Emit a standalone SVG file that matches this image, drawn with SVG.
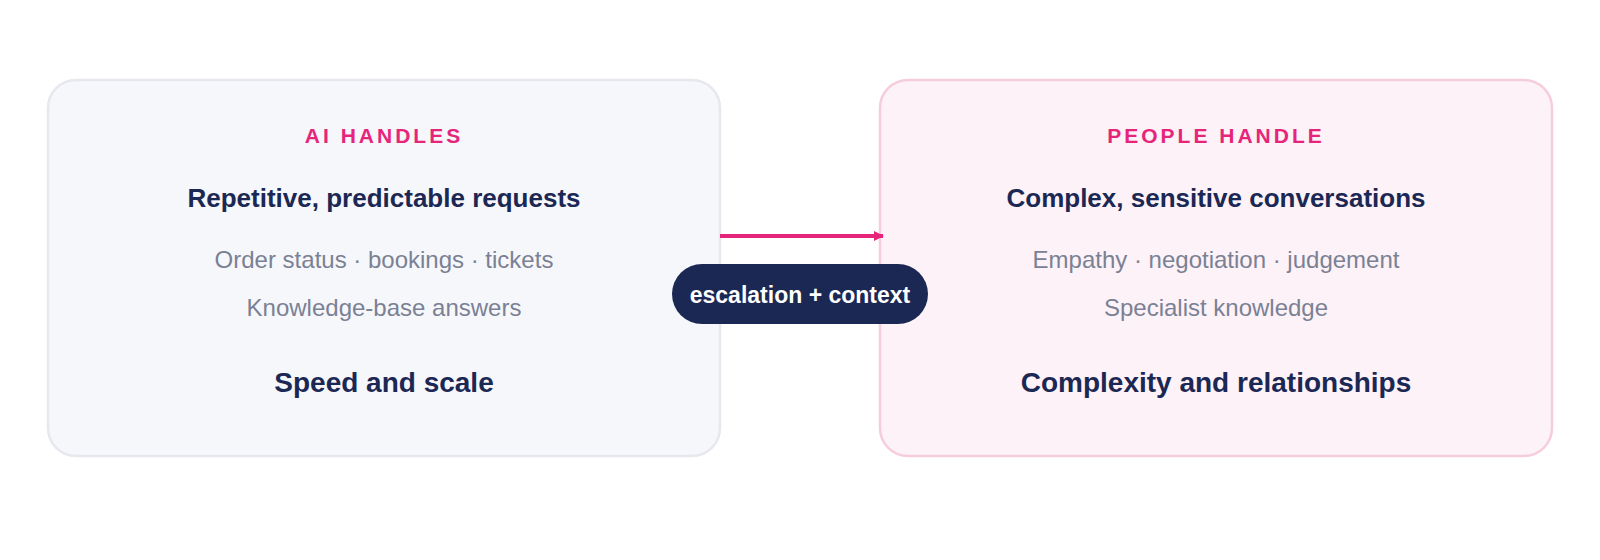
<svg xmlns="http://www.w3.org/2000/svg" width="1600" height="560" viewBox="0 0 1600 560">
<style>
text{font-family:"Liberation Sans",Arial,sans-serif;text-anchor:middle}
.t{fill:#e6257a;font-size:21px;font-weight:bold;letter-spacing:3px}
.h{fill:#1c2854;font-size:26px;font-weight:bold}
.s{fill:#7a8194;font-size:24px}
.b{fill:#1c2854;font-size:28px;font-weight:bold}
</style>
<defs><marker id="a" markerWidth="10" markerHeight="10" refX="9" refY="5" orient="auto" markerUnits="userSpaceOnUse" viewBox="0 0 10 10"><path d="M0 0L10 5L0 10z" fill="#e6257a"/></marker></defs>
<rect width="1600" height="560" fill="#fff"/>
<g id="ai">
<rect x="48" y="80" width="672" height="376" rx="28" fill="#f6f7fb" stroke="#e6e8ee" stroke-width="2.5"/>
<text class="t" x="384" y="143">AI HANDLES</text>
<text class="h" x="384" y="207">Repetitive, predictable requests</text>
<text class="s" x="384" y="268">Order status · bookings · tickets</text>
<text class="s" x="384" y="316">Knowledge-base answers</text>
<text class="b" x="384" y="392">Speed and scale</text>
</g>
<g id="people">
<rect x="880" y="80" width="672" height="376" rx="28" fill="#fdf2f8" stroke="#f5cddd" stroke-width="2.5"/>
<text class="t" x="1216" y="143">PEOPLE HANDLE</text>
<text class="h" x="1216" y="207">Complex, sensitive conversations</text>
<text class="s" x="1216" y="268">Empathy · negotiation · judgement</text>
<text class="s" x="1216" y="316">Specialist knowledge</text>
<text class="b" x="1216" y="392">Complexity and relationships</text>
</g>
<g id="connectors">
<line x1="720" y1="236" x2="883" y2="236" stroke="#e6257a" stroke-width="4" marker-end="url(#a)"/>
<g id="label"><rect x="672" y="264" width="256" height="60" rx="30" fill="#1c2854"/>
<text x="800" y="303" fill="#fff" font-size="23" font-weight="bold">escalation + context</text></g>
</g>
</svg>
